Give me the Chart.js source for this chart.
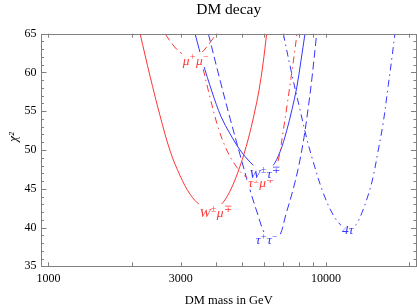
<!DOCTYPE html>
<html>
<head>
<meta charset="utf-8">
<script src="https://cdn.jsdelivr.net/npm/chart.js@4.4.0/dist/chart.umd.min.js"></script>
<style>
    html, body { margin: 0; padding: 0; background: #fff; }
</style>
</head>
<body>
<canvas id="chi2-chart" width="417" height="307"></canvas>
<script>
// axis ranges and ticks
const xMin = 940, xMax = 21200;
const xTicks = [1000, 2000, 3000, 4000, 5000, 6000, 7000, 8000, 9000, 10000, 20000];
const xLabeled = [1000, 3000, 10000];
const yMin = 35, yMax = 65;
const yTicks = [35, 40, 45, 50, 55, 60, 65];

// W± mu∓ (red solid)
const wmuMass = [2139, 2324, 2525, 2743, 2980, 3238, 3518, 3854, 4153, 4511, 4901, 5238, 5503, 5738, 5931, 6115];
const wmuChi2 = [65, 59.5, 54.4, 49.9, 46.7, 44.3, 42.9, 42.3, 42.8, 44.7, 47.9, 51.3, 54.5, 57.7, 61.1, 65];

// mu+ mu- (red dashed)
const mumuMass = [2632, 2789, 2980, 3251, 3519, 3759, 3918, 4041];
const mumuChi2 = [65, 63.7, 62.6, 61.9, 62.4, 63.5, 64.4, 65];

// tau± mu∓ (red dash-dot)
const taumuMass = [3489, 3567, 3821, 4095, 4389, 4702, 5038, 5460, 5881, 6285, 6553, 6773, 7004, 7239, 7482, 7702, 7864];
const taumuChi2 = [62.5, 61.2, 56.8, 52.8, 50.0, 48.1, 46.8, 45.95, 45.6, 46.3, 47.3, 49.1, 52.3, 55.7, 59.3, 62.5, 65];

// W± tau∓ (blue solid)
const wtauMass = [3375, 3606, 3886, 4188, 4511, 4901, 5325, 5643, 6031, 6391, 6830, 7221, 7542, 7844, 8128, 8403];
const wtauChi2 = [65, 61.2, 57.5, 54.3, 52.1, 50.0, 48.45, 47.7, 47.3, 47.8, 49.75, 52.5, 55.2, 58.0, 61.5, 65];

// tau+ tau- (blue dashed)
const tautauMass = [3769, 4153, 4511, 4901, 5325, 5690, 5981, 6339, 6773, 7178, 7607, 7997, 8333, 8615, 8906, 9259];
const tautauChi2 = [65, 59.0, 54.1, 49.4, 44.85, 41.6, 39.4, 38.5, 38.8, 41.75, 44.85, 48.1, 51.6, 55.2, 59.3, 65];

// 4 tau (blue dash-dot)
const fourtauMass = [7020, 7522, 8062, 8521, 9002, 9779, 10624, 11389, 12099, 12898, 13476, 14200, 14764, 15390, 16082, 16764, 17290, 17724];
const fourtauChi2 = [65, 59.9, 55.2, 51.55, 48.45, 44.45, 41.6, 40.2, 39.6, 40.5, 41.9, 44.2, 46.4, 49.75, 53.5, 58.3, 61.9, 65];

// curve labels: [base, superscript] pairs
const labelParts = [
    [['W', '±'], ['μ', '∓']],
    [['μ', '+'], ['μ', '−']],
    [['τ', '±'], ['μ', '∓']],
    [['W', '±'], ['τ', '∓']],
    [['τ', '+'], ['τ', '−']],
    [['4τ', '']]
];
const labelMass = [4017, 3400, 5867, 6031, 6131, 12032];
const labelChi2 = [42.0, 61.6, 45.8, 47.0, 38.4, 39.7];

const red = '#ff3535';
const blue = '#3535ff';
const labelColors = [red, red, red, blue, blue, blue];
const serif = "'Liberation Serif', 'Times New Roman', serif";

function toPoints(xs, ys) {
    return xs.map((x, i) => ({ x: x, y: ys[i] }));
}

function curve(xs, ys, color, dash) {
    return {
        data: toPoints(xs, ys),
        borderColor: color,
        borderWidth: 1,
        borderDash: dash,
        pointRadius: 0,
        fill: false,
        tension: 0.35
    };
}

// frame, inward ticks, y title and curve labels
const decorations = {
    id: 'decorations',
    afterDatasetsDraw(chart) {
        const ctx = chart.ctx;
        const xs = chart.scales.x, ys = chart.scales.y;
        ctx.save();
        labelParts.forEach((parts, i) => {
            const baseFont = 'italic 13.5px ' + serif;
            const supFont = '9.5px ' + serif;
            // measure the whole label first
            let w = 0;
            parts.forEach(p => {
                ctx.font = baseFont; w += ctx.measureText(p[0]).width;
                ctx.font = supFont; w += ctx.measureText(p[1]).width + 1;
            });
            const cx = xs.getPixelForValue(labelMass[i]);
            const cy = ys.getPixelForValue(labelChi2[i]);
            ctx.fillStyle = '#fff';
            ctx.fillRect(cx - w / 2 - 1, cy - 8, w + 2, 15);
            ctx.fillStyle = labelColors[i];
            ctx.textBaseline = 'alphabetic';
            ctx.textAlign = 'left';
            let x = cx - w / 2;
            const base = cy + 4.5;
            parts.forEach(p => {
                ctx.font = baseFont;
                ctx.fillText(p[0], x, base);
                x += ctx.measureText(p[0]).width;
                ctx.font = supFont;
                ctx.fillText(p[1], x + 0.3, base - 4.5);
                x += ctx.measureText(p[1]).width + 1;
            });
        });
        ctx.restore();
    },
    afterDraw(chart) {
        const ctx = chart.ctx;
        const a = chart.chartArea;
        const xs = chart.scales.x, ys = chart.scales.y;
        ctx.save();
        ctx.strokeStyle = '#808080';
        ctx.lineWidth = 1;
        ctx.strokeRect(Math.round(a.left) + 0.5, Math.round(a.top) + 0.5,
            Math.round(a.right - a.left) - 1, Math.round(a.bottom - a.top) - 1);
        ctx.beginPath();
        xTicks.forEach(v => {
            const px = Math.round(xs.getPixelForValue(v)) + 0.5;
            ctx.moveTo(px, a.bottom); ctx.lineTo(px, a.bottom - 4);
            ctx.moveTo(px, a.top); ctx.lineTo(px, a.top + 4);
        });
        for (let v = yMin; v <= yMax; v++) {
            const py = Math.round(ys.getPixelForValue(v)) + 0.5;
            const len = yTicks.includes(v) ? 5.5 : 3;
            ctx.moveTo(a.left, py); ctx.lineTo(a.left + len, py);
            ctx.moveTo(a.right, py); ctx.lineTo(a.right - len, py);
        }
        ctx.stroke();
        // y axis title
        ctx.translate(13.5, 137);
        ctx.rotate(-Math.PI / 2);
        ctx.fillStyle = '#000';
        ctx.font = 'italic 13px ' + serif;
        ctx.textAlign = 'center';
        ctx.textBaseline = 'middle';
        ctx.fillText('χ²', 0, 0);
        ctx.restore();
    }
};

const ctx = document.getElementById('chi2-chart').getContext('2d');
const chart = new Chart(ctx, {
    type: 'line',
    data: {
        datasets: [
            curve(wmuMass, wmuChi2, red, []),
            curve(mumuMass, mumuChi2, red, [8, 4]),
            curve(taumuMass, taumuChi2, red, [7, 4, 1.5, 4]),
            curve(wtauMass, wtauChi2, blue, []),
            curve(tautauMass, tautauChi2, blue, [8, 4]),
            curve(fourtauMass, fourtauChi2, blue, [7, 4, 1.5, 4])
        ]
    },
    options: {
        responsive: false,
        devicePixelRatio: 1,
        animation: false,
        layout: { padding: { left: 0, right: 0.5, top: 0, bottom: 0 } },
        plugins: {
            legend: { display: false },
            tooltip: { enabled: false },
            title: {
                display: true,
                text: 'DM decay',
                fullSize: false,
                color: '#000',
                font: { family: serif, size: 15.5, weight: 'normal' },
                padding: { top: 1, bottom: 14.1 }
            }
        },
        scales: {
            x: {
                type: 'logarithmic',
                min: xMin,
                max: xMax,
                afterBuildTicks: s => { s.ticks = xTicks.map(v => ({ value: v })); },
                afterFit: s => { s.height = 40.7; },
                grid: { display: false, drawTicks: false },
                border: { display: false },
                ticks: {
                    color: '#000',
                    font: { family: serif, size: 12 },
                    padding: 5,
                    maxRotation: 0,
                    autoSkip: false,
                    callback: v => xLabeled.includes(v) ? String(v) : ''
                },
                title: {
                    display: true,
                    text: 'DM mass in GeV',
                    color: '#000',
                    font: { family: serif, size: 12.5, lineHeight: 1 },
                    padding: { top: 0, bottom: 0 }
                }
            },
            y: {
                min: yMin,
                max: yMax,
                afterFit: s => { s.width = 41; },
                grid: { display: false, drawTicks: false },
                border: { display: false },
                ticks: {
                    stepSize: 5,
                    color: '#000',
                    font: { family: serif, size: 12 },
                    padding: 4.5
                }
            }
        }
    },
    plugins: [decorations]
});
</script>
</body>
</html>
